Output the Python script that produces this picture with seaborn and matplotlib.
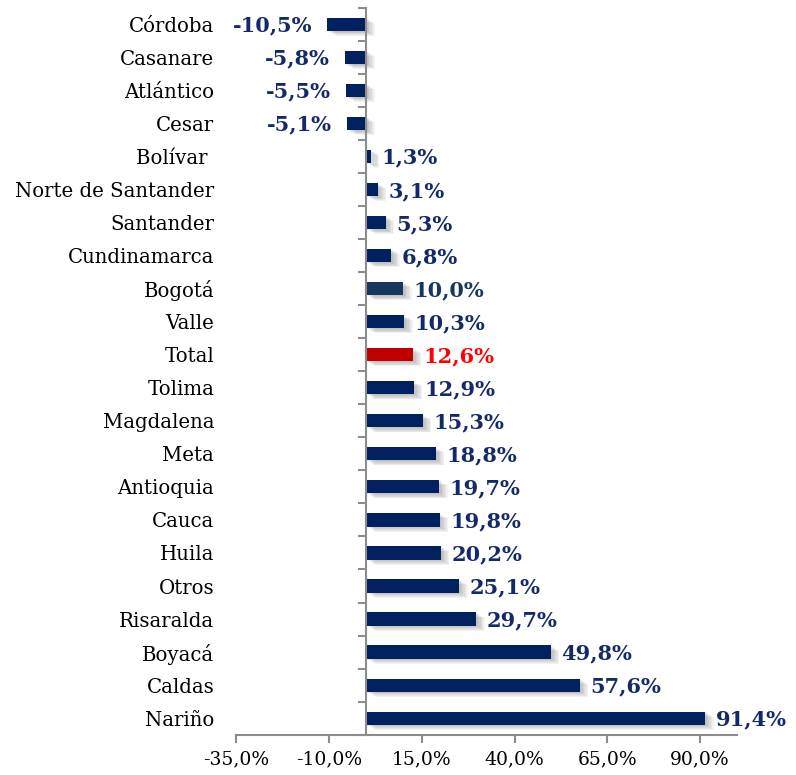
import matplotlib
matplotlib.use("Agg")
import matplotlib.pyplot as plt
import matplotlib.patheffects as pe
from matplotlib.ticker import FixedLocator
import seaborn as sns
import pandas as pd

categories = ["Córdoba", "Casanare", "Atlántico", "Cesar", "Bolívar ", "Norte de Santander",
              "Santander", "Cundinamarca", "Bogotá", "Valle", "Total", "Tolima", "Magdalena",
              "Meta", "Antioquia", "Cauca", "Huila", "Otros", "Risaralda", "Boyacá", "Caldas", "Nariño"]
values = [-10.5, -5.8, -5.5, -5.1, 1.3, 3.1, 5.3, 6.8, 10.0, 10.3, 12.6, 12.9, 15.3,
          18.8, 19.7, 19.8, 20.2, 25.1, 29.7, 49.8, 57.6, 91.4]
x_ticks = [-35, -10, 15, 40, 65, 90]

navy = "#002060"
bar_colors = {c: navy for c in categories}
bar_colors["Bogotá"] = "#17375E"
bar_colors["Total"] = "#C00000"
label_colors = {c: "#13296A" for c in categories}
label_colors["Bogotá"] = "#17375E"
label_colors["Total"] = "#FF0000"

df = pd.DataFrame({"cat": categories, "val": values})

sns.set_style("white")
plt.rcParams["font.family"] = ["DejaVu Serif"]

fig = plt.figure(figsize=(7.96, 7.75), dpi=100)
ax = fig.add_axes([0.297, 0.052, 0.629, 0.938])

sns.barplot(data=df, x="val", y="cat", hue="cat", palette=bar_colors, orient="h",
            width=0.4, legend=False, ax=ax, saturation=1)

shadows = [pe.SimplePatchShadow(offset=(d, -d * 0.6), shadow_rgbFace="#777777", alpha=0.09)
           for d in (1, 2, 3, 4, 5, 6)]
for p in ax.patches:
    p.set_edgecolor("none")
    p.set_path_effects(shadows + [pe.Normal()])

ax.set_xlim(-35, 100)
ax.set_ylim(len(categories) - 0.5, -0.5)
ax.set_xlabel("")
ax.set_ylabel("")

# value labels
for i, (c, v) in enumerate(zip(categories, values)):
    txt = f"{v:.1f}%".replace(".", ",")
    if v < 0:
        ax.annotate(txt, (v, i), xytext=(-11, -1), textcoords="offset points",
                    ha="right", va="center", fontsize=15, fontweight="bold",
                    color=label_colors[c])
    else:
        ax.annotate(txt, (v, i), xytext=(7.5, -1), textcoords="offset points",
                    ha="left", va="center", fontsize=15, fontweight="bold",
                    color=label_colors[c])

# spines
for s in ["top", "left"]:
    ax.spines[s].set_visible(False)
ax.spines["bottom"].set_color("#8C8C8C")
ax.spines["bottom"].set_linewidth(1.5)
ax.spines["right"].set_position(("data", 0))
ax.spines["right"].set_color("#8C8C8C")
ax.spines["right"].set_linewidth(1.5)

ax.set_xticks(x_ticks)
ax.set_xticklabels([f"{t:.1f}%".replace(".", ",") for t in x_ticks], fontsize=13.5)
ax.tick_params(axis="x", which="major", direction="out", length=6, width=1.5,
               color="#8C8C8C", bottom=True, pad=5, labelcolor="black")

ax.set_yticks(range(len(categories)))
ax.set_yticklabels(categories, fontsize=14.2)
ax.tick_params(axis="y", which="major", left=True, right=False, length=0, pad=16,
               labelcolor="black")
ax.yaxis.set_minor_locator(FixedLocator([i - 0.5 for i in range(len(categories) + 1)]))
ax.tick_params(axis="y", which="minor", left=False, right=True, direction="in",
               length=6, width=1.5, color="#8C8C8C")

fig.savefig("out.png", dpi=100)
